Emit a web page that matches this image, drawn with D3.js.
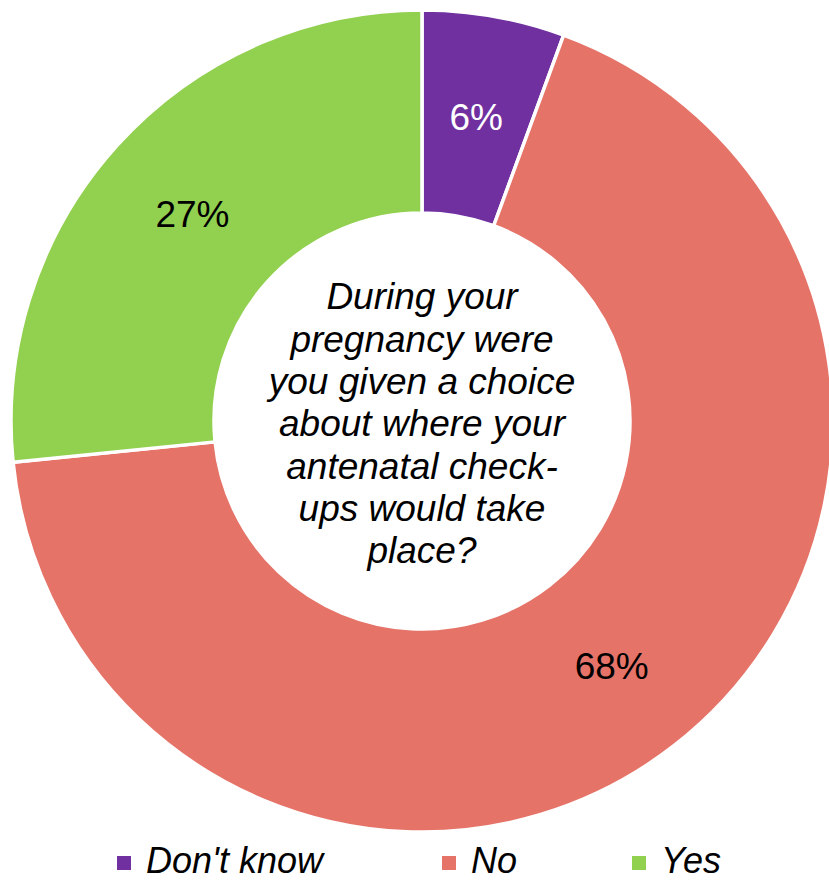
<!DOCTYPE html>
<html>
<head>
<meta charset="utf-8">
<script src="https://cdn.jsdelivr.net/npm/d3@7"></script>
<style>
  html, body { margin: 0; padding: 0; background: #fff; }
  svg { display: block; font-family: "Liberation Sans", Arial, sans-serif; }
</style>
</head>
<body>
<svg id="chart" width="829" height="881"></svg>
<script>
// Survey answers and their shares of respondents (%)
const categories = ["Don't know", "No", "Yes"];
const shares = [5.6, 67.8, 26.6];
const colors = ["#7030A0", "#E57368", "#92D050"];
const question = [
  "During your",
  "pregnancy were",
  "you given a choice",
  "about where your",
  "antenatal check-",
  "ups would take",
  "place?"
];

const svg = d3.select("#chart");
const cx = 422, cy = 421, outerR = 411, innerR = 208;

const data = categories.map((c, i) => ({ category: c, value: shares[i] }));
const color = d3.scaleOrdinal().domain(categories).range(colors);

const pie = d3.pie().value(d => d.value).sort(null);
const arc = d3.arc().innerRadius(innerR).outerRadius(outerR);
const labelArc = d3.arc().innerRadius((innerR + outerR) / 2).outerRadius((innerR + outerR) / 2);

const g = svg.append("g").attr("transform", `translate(${cx},${cy})`);

const arcs = pie(data);
g.selectAll("path.slice")
  .data(arcs)
  .join("path")
  .attr("class", "slice")
  .attr("d", arc)
  .attr("fill", d => color(d.data.category))
  .attr("stroke", "#fff")
  .attr("stroke-width", 3.5)
  .attr("stroke-linejoin", "round");

const pct = d3.format(".0f");
g.selectAll("text.value")
  .data(arcs)
  .join("text")
  .attr("class", "value")
  .attr("transform", d => `translate(${labelArc.centroid(d)})`)
  .attr("text-anchor", "middle")
  .attr("dy", "0.36em")
  .attr("font-size", 37)
  .attr("fill", d => d.data.category === "Don't know" ? "#fff" : "#000")
  .text(d => pct(d.data.value) + "%");

// Question text in the hole
const lineH = 42.3;
const qText = g.append("text")
  .attr("text-anchor", "middle")
  .attr("font-size", 37)
  .attr("font-style", "italic")
  .attr("fill", "#000");
question.forEach((line, i) => {
  qText.append("tspan")
    .attr("x", 0)
    .attr("y", (i - (question.length - 1) / 2) * lineH + 2)
    .attr("dy", "0.36em")
    .text(line);
});

// Legend
const legendX = d3.scaleOrdinal().domain(categories).range([117, 442, 632]);
const legend = svg.append("g").selectAll("g")
  .data(categories)
  .join("g")
  .attr("transform", d => `translate(${legendX(d)},856)`);
legend.append("rect")
  .attr("width", 14)
  .attr("height", 14)
  .attr("fill", d => color(d));
legend.append("text")
  .attr("x", 29)
  .attr("y", 17)
  .attr("font-size", 36)
  .attr("font-style", "italic")
  .attr("fill", "#000")
  .text(d => d);
</script>
</body>
</html>
